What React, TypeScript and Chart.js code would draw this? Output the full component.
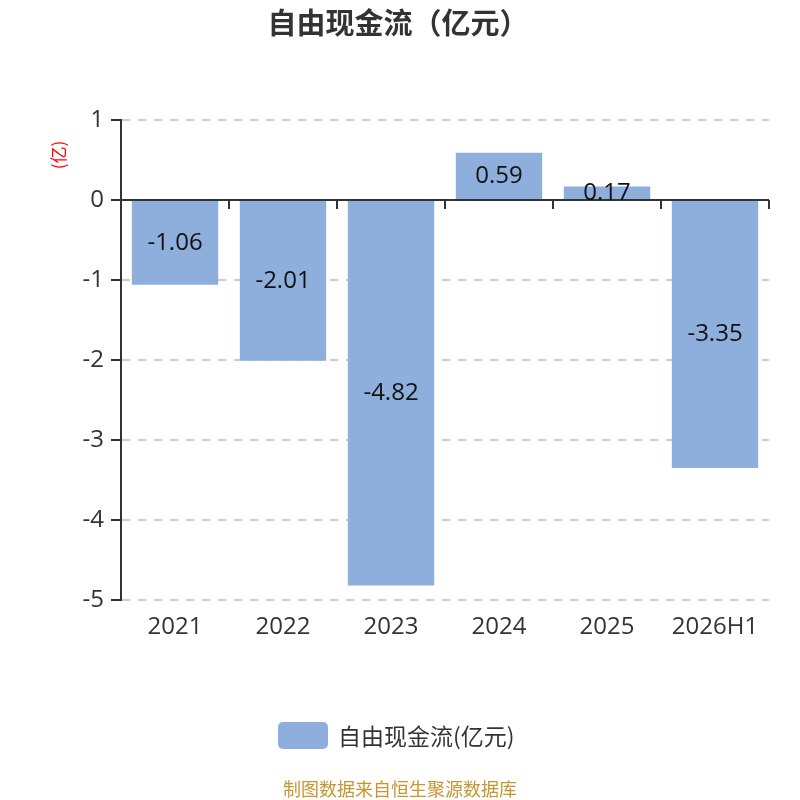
import React, { useEffect, useRef } from "react";
import { Chart, registerables } from "chart.js";

Chart.register(...registerables);

const categories = ["2021", "2022", "2023", "2024", "2025", "2026H1"];
const values = [-1.06, -2.01, -4.82, 0.59, 0.17, -3.35];
const seriesName = "自由现金流(亿元)";
const titleText = "自由现金流（亿元）";
const yUnit = "(亿)";
const footerText = "制图数据来自恒生聚源数据库";

const BAR_COLOR = "#8eaedb";
const LATIN = "'Open Sans', 'Noto Sans CJK SC', sans-serif";
const CJK = "'Noto Sans CJK SC', 'Open Sans', sans-serif";

const decorPlugin = {
  id: "decor",
  afterDatasetsDraw(chart: any) {
    const { ctx, chartArea, scales } = chart;
    const x = scales.x;
    const y = scales.y;
    const y0 = y.getPixelForValue(0);
    ctx.save();
    ctx.strokeStyle = "#333";
    ctx.lineWidth = 2;
    ctx.beginPath();
    ctx.moveTo(chartArea.left, y0);
    ctx.lineTo(chartArea.right, y0);
    ctx.stroke();
    const n = categories.length;
    const step = (chartArea.right - chartArea.left) / n;
    ctx.beginPath();
    for (let i = 1; i <= n; i++) {
      const px = x.getPixelForValue(i - 1) + step / 2;
      ctx.moveTo(px, y0);
      ctx.lineTo(px, y0 + 9);
    }
    ctx.stroke();
    const meta = chart.getDatasetMeta(0);
    ctx.fillStyle = "#111";
    ctx.font = `24px ${LATIN}`;
    ctx.textAlign = "center";
    ctx.textBaseline = "middle";
    meta.data.forEach((bar: any, i: number) => {
      const cy = (bar.y + bar.base) / 2;
      ctx.fillText(values[i].toFixed(2), bar.x, cy);
    });
    ctx.restore();
  },
  afterDraw(chart: any) {
    const { ctx } = chart;
    ctx.save();
    ctx.fillStyle = "#333";
    ctx.font = `bold 29px ${CJK}`;
    ctx.textAlign = "center";
    ctx.textBaseline = "middle";
    ctx.fillText(titleText, 398, 23);
    ctx.save();
    ctx.translate(59, 155);
    ctx.rotate(-Math.PI / 2);
    ctx.fillStyle = "#ff0000";
    ctx.font = `17px ${CJK}`;
    ctx.fillText(yUnit, 0, 0);
    ctx.restore();
    ctx.fillStyle = BAR_COLOR;
    ctx.beginPath();
    (ctx as any).roundRect(278, 722, 50, 27, 5);
    ctx.fill();
    ctx.fillStyle = "#333";
    ctx.font = `23px ${CJK}`;
    ctx.textAlign = "left";
    ctx.fillText(seriesName, 338, 736);
    ctx.fillStyle = "#c8952f";
    ctx.font = `18px ${CJK}`;
    ctx.textAlign = "center";
    ctx.fillText(footerText, 400, 789);
    ctx.restore();
  },
};

export default function App() {
  const ref = useRef<HTMLCanvasElement>(null);
  useEffect(() => {
    document.body.style.margin = "0";
    const chart = new Chart(ref.current!, {
      type: "bar",
      data: {
        labels: categories,
        datasets: [
          {
            label: seriesName,
            data: values,
            backgroundColor: BAR_COLOR,
            barPercentage: 0.8,
            categoryPercentage: 1,
          },
        ],
      },
      options: {
        animation: false,
        responsive: false,
        devicePixelRatio: 1,
        layout: { padding: { top: 120, right: 31, left: 0, bottom: 0 } },
        plugins: {
          legend: { display: false },
          title: { display: false },
          tooltip: { enabled: false },
        },
        scales: {
          x: {
            grid: { display: false, drawTicks: false },
            border: { display: false },
            ticks: {
              color: "#333",
              font: { size: 24, family: LATIN },
              padding: 13,
              maxRotation: 0,
            },
            afterFit: (s: any) => {
              s.height = 200;
            },
          },
          y: {
            min: -5,
            max: 1,
            ticks: {
              stepSize: 1,
              color: "#333",
              font: { size: 24, family: LATIN },
              padding: 7,
            },
            grid: {
              color: "#cccccc",
              lineWidth: 2,
              tickLength: 10,
              tickColor: "#333",
              tickWidth: 2,
              tickBorderDash: [],
            } as any,
            border: { display: true, color: "#333", width: 2, dash: [8, 8] } as any,
            afterFit: (s: any) => {
              s.width = 121;
            },
          },
        },
      },
      plugins: [decorPlugin],
    });
    return () => chart.destroy();
  }, []);
  return <canvas ref={ref} width={800} height={800} style={{ display: "block" }} />;
}
